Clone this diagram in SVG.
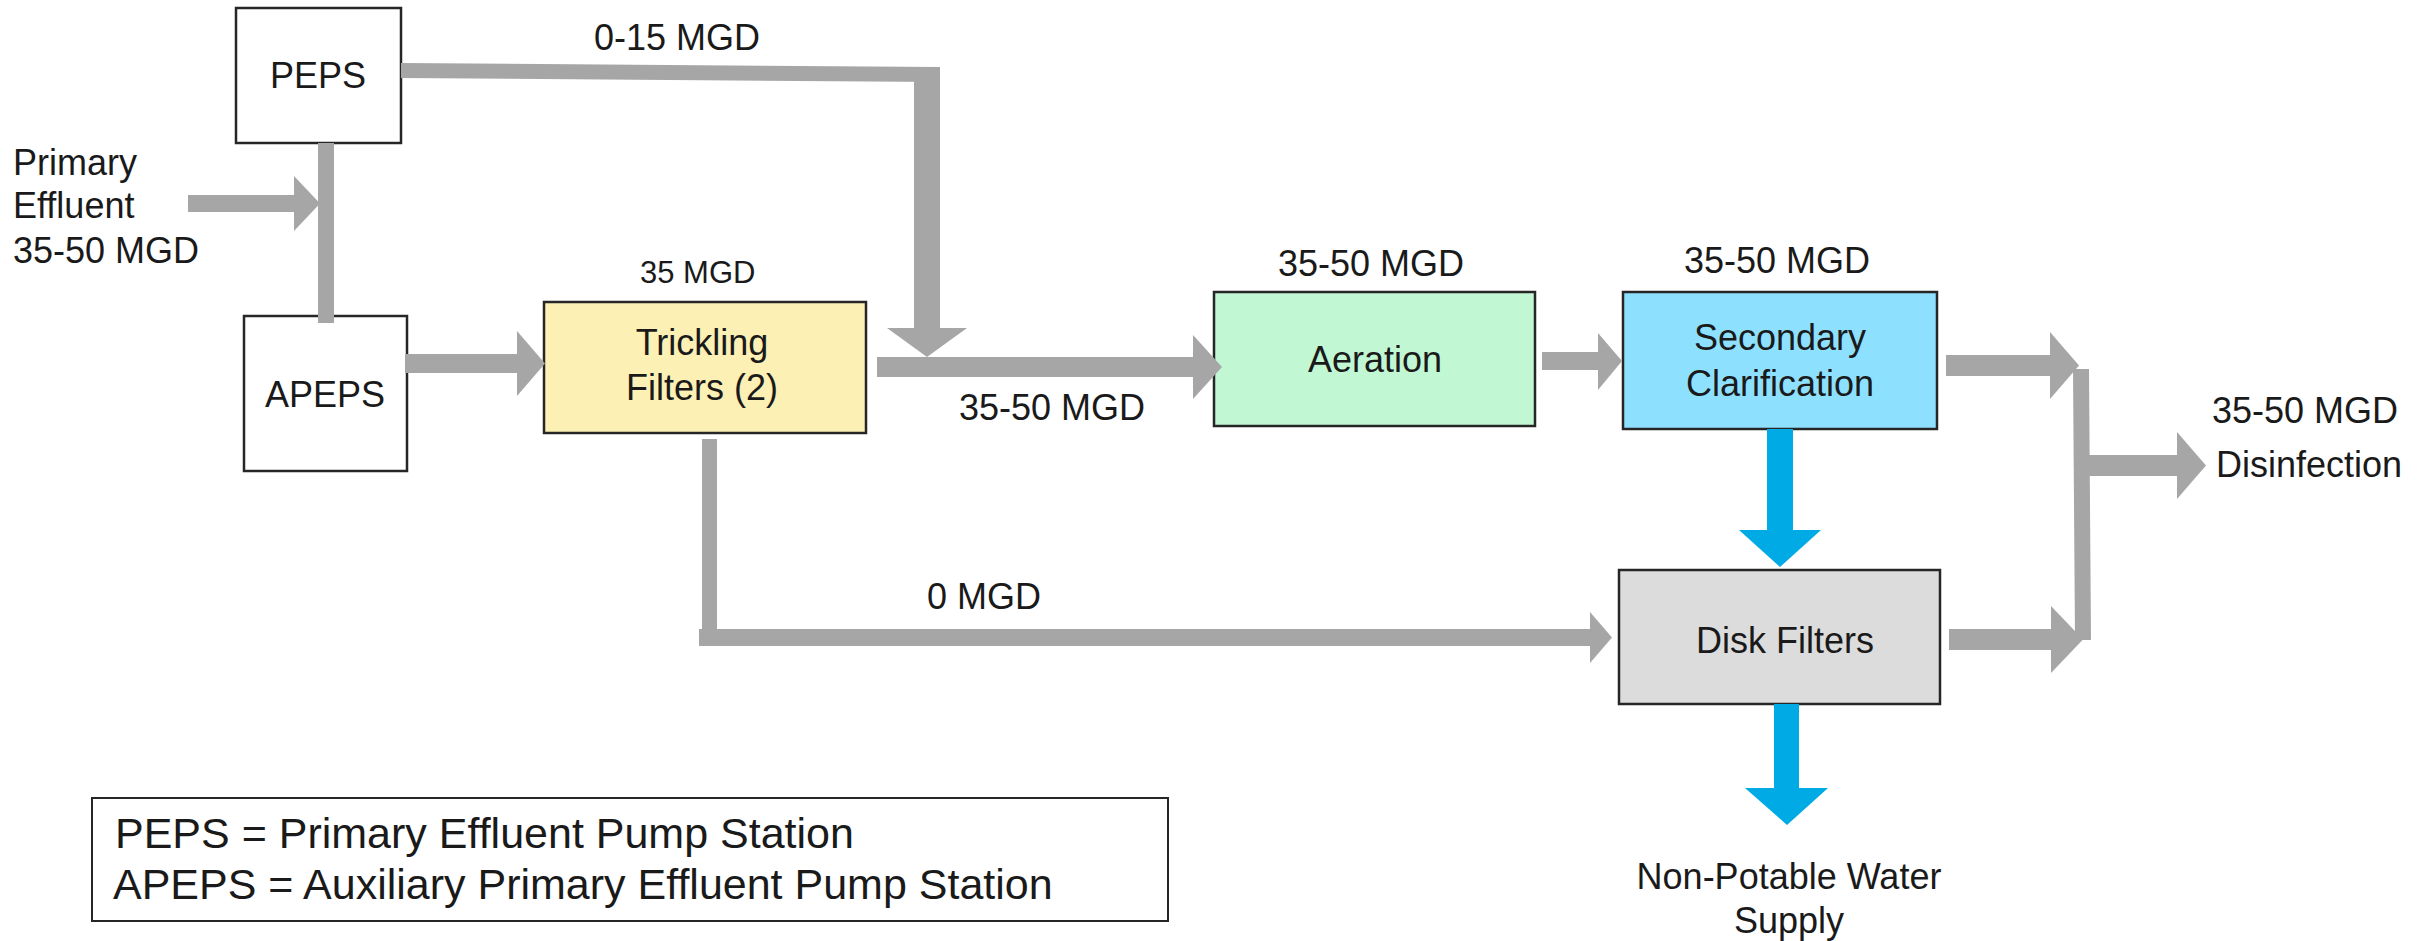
<svg xmlns="http://www.w3.org/2000/svg" width="2435" height="941" viewBox="0 0 2435 941">
<style>
text{font-family:"Liberation Sans",Arial,sans-serif;font-size:36px;fill:#1a1a1a}
.c{text-anchor:middle}
.box{stroke:#262626;stroke-width:2.5}
.g{fill:#a6a6a6}
.b{fill:#00aae4}
.lg{font-size:43px}
</style>
<rect width="2435" height="941" fill="#ffffff"/>
<g id="peps"><rect class="box" x="236" y="8" width="165" height="135" fill="#ffffff"/><text class="c" x="318" y="88">PEPS</text></g>
<g id="apeps"><rect class="box" x="244" y="316" width="163" height="155" fill="#ffffff"/><text class="c" x="325" y="407">APEPS</text></g>
<g id="trickling"><rect class="box" x="544" y="302" width="322" height="131" fill="#fcf0b4"/><text class="c" x="702" y="355">Trickling</text><text class="c" x="702" y="400">Filters (2)</text></g>
<g id="aeration"><rect class="box" x="1214" y="292" width="321" height="134" fill="#c2f7d4"/><text class="c" x="1375" y="372">Aeration</text></g>
<g id="secondary"><rect class="box" x="1623" y="292" width="314" height="137" fill="#8ee0ff"/><text class="c" x="1780" y="350">Secondary</text><text class="c" x="1780" y="396">Clarification</text></g>
<g id="disk"><rect class="box" x="1619" y="570" width="321" height="134" fill="#dcdcdc"/><text class="c" x="1785" y="653">Disk Filters</text></g>
<g id="legend"><rect x="92" y="798" width="1076" height="123" fill="#ffffff" stroke="#262626" stroke-width="2"/><text class="lg" x="115" y="848">PEPS = Primary Effluent Pump Station</text><text class="lg" x="113" y="899">APEPS = Auxiliary Primary Effluent Pump Station</text></g>
<g id="labels">
<text x="13" y="175">Primary</text><text x="13" y="218">Effluent</text><text x="13" y="263">35-50 MGD</text>
<text x="594" y="50">0-15 MGD</text>
<text x="640" y="283" style="font-size:31px">35 MGD</text>
<text x="1278" y="276">35-50 MGD</text>
<text x="1684" y="273">35-50 MGD</text>
<text x="959" y="420">35-50 MGD</text>
<text x="927" y="609">0 MGD</text>
<text x="2212" y="423">35-50 MGD</text>
<text x="2216" y="477">Disinfection</text>
<text class="c" x="1789" y="889">Non-Potable Water</text>
<text class="c" x="1789" y="933">Supply</text>
</g>
<g id="connectors">
<rect class="g" x="318" y="143" width="16" height="180"/>
<rect class="g" x="188" y="195" width="106" height="17"/><polygon class="g" points="294,176 320,203.5 294,231"/>
<polygon class="g" points="401,63 940,67 940,82 401,78"/><rect class="g" x="914" y="67" width="26" height="262"/><polygon class="g" points="887,328 967,328 927,357"/>
<rect class="g" x="877" y="357" width="317" height="20"/><polygon class="g" points="1193,335 1222,367 1193,399"/>
<rect class="g" x="405" y="354" width="113" height="19"/><polygon class="g" points="517,331 545,363.5 517,396"/>
<rect class="g" x="1542" y="352" width="57" height="18"/><polygon class="g" points="1598,333 1622,361 1598,390"/>
<rect class="b" x="1767" y="429" width="26" height="102"/><polygon class="b" points="1739,530 1821,530 1780,567"/>
<rect class="b" x="1774" y="704" width="25" height="85"/><polygon class="b" points="1745,788 1828,788 1787,825"/>
<rect class="g" x="702" y="439" width="15" height="207"/><rect class="g" x="699" y="629" width="892" height="17"/><polygon class="g" points="1590,612 1612,637.5 1590,663"/>
<rect class="g" x="1946" y="355" width="105" height="21"/><polygon class="g" points="2050,332 2079,365.5 2050,399"/>
<rect class="g" x="1949" y="629" width="103" height="21"/><polygon class="g" points="2051,606 2083,639.5 2051,673"/>
<polygon class="g" points="2073,369 2089,369 2091,640 2075,640"/>
<rect class="g" x="2089" y="455" width="89" height="21"/><polygon class="g" points="2177,432 2206,465.5 2177,499"/>
</g>
</svg>
